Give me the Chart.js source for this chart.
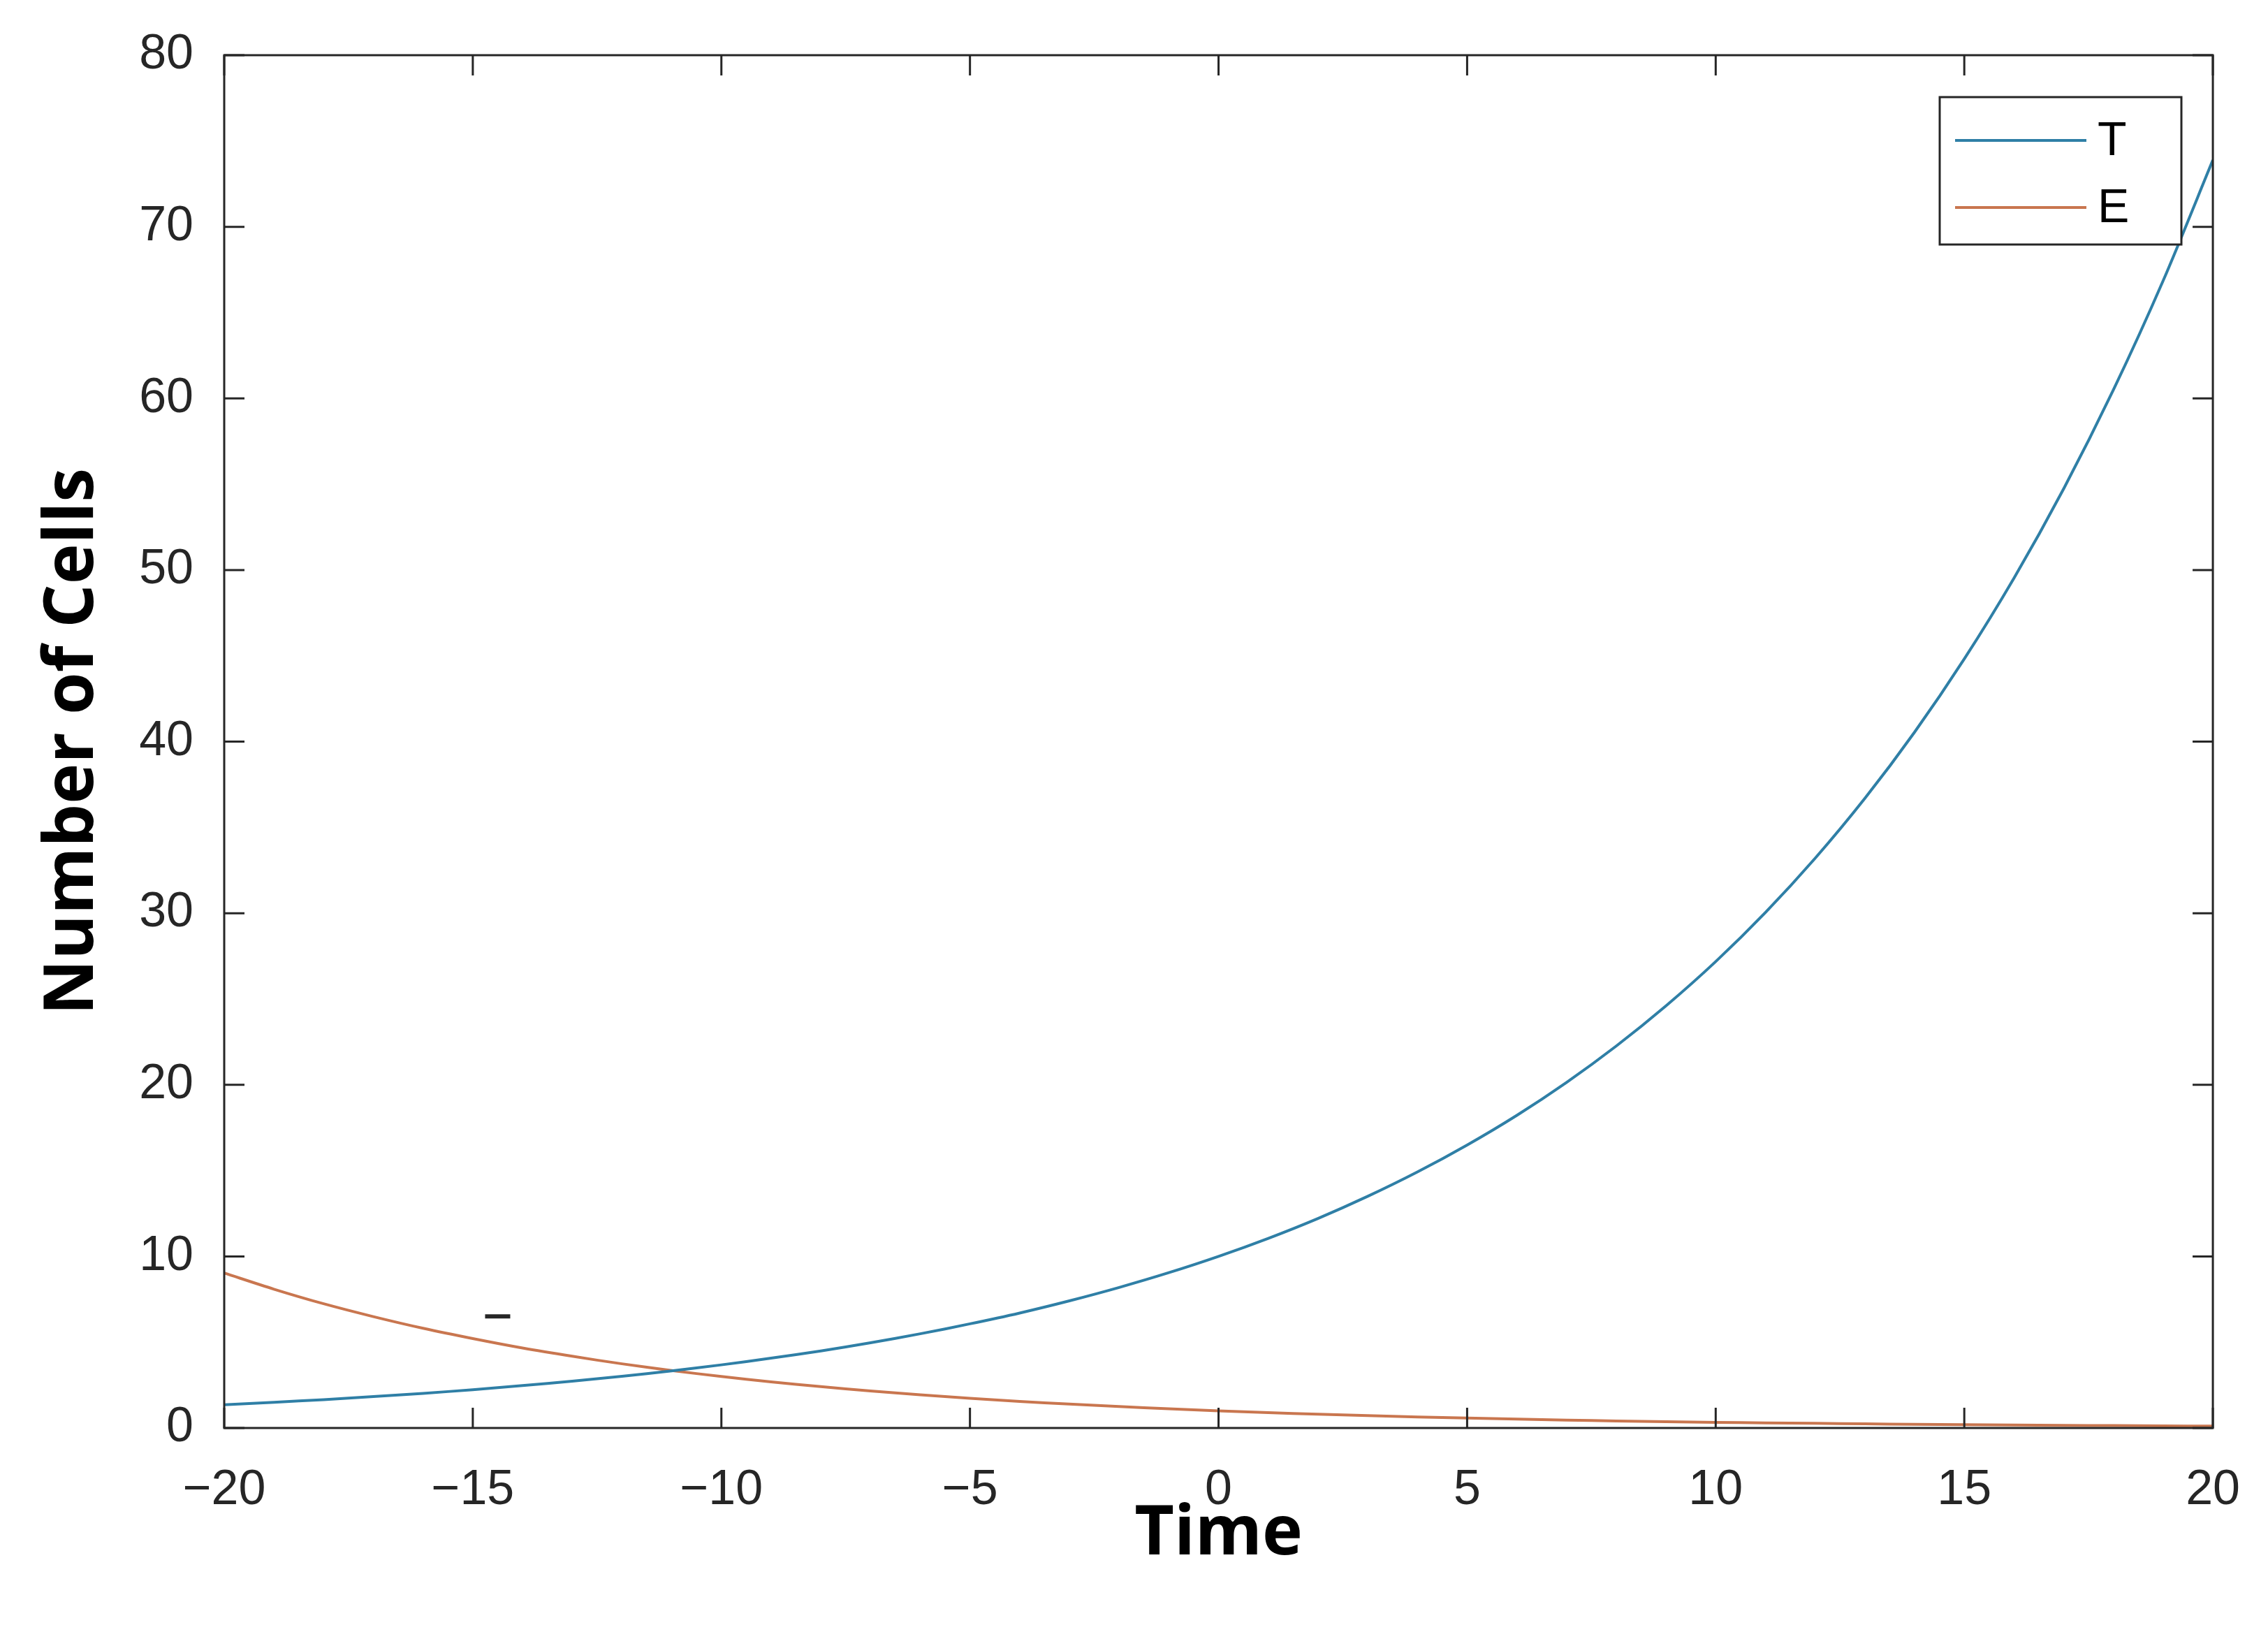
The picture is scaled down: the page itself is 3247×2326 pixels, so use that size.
<!DOCTYPE html>
<html>
<head>
<meta charset="utf-8">
<script src="https://cdn.jsdelivr.net/npm/chart.js@4.4.0/dist/chart.umd.min.js"></script>
<style>
  html, body { margin: 0; padding: 0; background: #fff; }
  #wrap { width: 3247px; height: 2326px; }
</style>
</head>
<body>
<div id="wrap"><canvas id="cellChart"></canvas></div>
<script>
// time points and the two cell populations
const times = [-20,-19,-18,-17,-16,-15,-14,-13,-12,-11,-10,-9,-8,-7,-6,-5,-4,-3,-2,-1,0,
               1,2,3,4,5,6,7,8,9,10,11,12,13,14,15,16,17,18,19,20];
const tCells = [1.35,1.50,1.65,1.83,2.02,2.23,2.47,2.73,3.01,3.33,3.68,4.07,4.49,4.97,5.49,6.07,6.70,7.41,8.19,9.05,10.0,
                11.05,12.21,13.50,14.92,16.49,18.22,20.14,22.26,24.60,27.18,30.04,33.20,36.69,40.55,44.82,49.53,54.74,60.50,66.86,73.89];
const eCells = [9.03,8.09,7.24,6.49,5.81,5.21,4.66,4.18,3.74,3.35,3.00,2.69,2.41,2.16,1.93,1.73,1.55,1.39,1.25,1.12,1.00,
                0.90,0.80,0.72,0.64,0.58,0.52,0.46,0.41,0.37,0.33,0.30,0.27,0.24,0.21,0.19,0.17,0.15,0.14,0.12,0.11];
const xTicks = [-20,-15,-10,-5,0,5,10,15,20];
const yTicks = [0,10,20,30,40,50,60,70,80];
const seriesNames = ['T', 'E'];
const seriesColors = ['#2f7fa6', '#c9764f'];
const strayMark = { x: -14.5, y: 6.5 };

const tickFont = { family: 'Liberation Sans', size: 70 };
const titleFont = { family: 'Open Sans', size: 98, weight: 'bold' };

// box around the plot, inward ticks, legend, and the little stray dash
const matlabFrame = {
    id: 'matlabFrame',
    afterDraw(chart) {
        const c = chart.ctx;
        const a = chart.chartArea;
        const xs = chart.scales.x, ys = chart.scales.y;
        const len = 29;
        c.save();
        c.strokeStyle = '#262626';
        c.lineWidth = 3;
        c.strokeRect(a.left, a.top, a.right - a.left, a.bottom - a.top);
        xTicks.forEach(v => {
            const px = xs.getPixelForValue(v);
            c.beginPath();
            c.moveTo(px, a.bottom); c.lineTo(px, a.bottom - len);
            c.moveTo(px, a.top); c.lineTo(px, a.top + len);
            c.stroke();
        });
        yTicks.forEach(v => {
            const py = ys.getPixelForValue(v);
            c.beginPath();
            c.moveTo(a.left, py); c.lineTo(a.left + len, py);
            c.moveTo(a.right, py); c.lineTo(a.right - len, py);
            c.stroke();
        });

        // stray dash
        const sx = xs.getPixelForValue(strayMark.x), sy = ys.getPixelForValue(strayMark.y);
        c.lineWidth = 6;
        c.beginPath();
        c.moveTo(sx - 18, sy); c.lineTo(sx + 18, sy);
        c.stroke();

        // legend box
        const bx = 2777, by = 139, bw = 346, bh = 211;
        c.fillStyle = '#fff';
        c.fillRect(bx, by, bw, bh);
        c.lineWidth = 3;
        c.strokeStyle = '#262626';
        c.strokeRect(bx, by, bw, bh);
        c.font = '68px "Liberation Sans"';
        c.textBaseline = 'middle';
        seriesNames.forEach((name, i) => {
            const ly = by + 62 + i * 96;
            c.strokeStyle = seriesColors[i];
            c.lineWidth = 4;
            c.beginPath();
            c.moveTo(bx + 22, ly); c.lineTo(bx + 210, ly);
            c.stroke();
            c.fillStyle = '#000';
            c.fillText(name, bx + 226, ly + 2);
        });
        c.restore();
    }
};

const ctx = document.getElementById('cellChart').getContext('2d');

const cellChart = new Chart(ctx, {
    type: 'line',
    data: {
        datasets: seriesNames.map((name, i) => ({
            label: name,
            data: times.map((t, k) => ({ x: t, y: (i === 0 ? tCells : eCells)[k] })),
            borderColor: seriesColors[i],
            borderWidth: 4,
            pointRadius: 0,
            tension: 0.3,
            fill: false
        }))
    },
    options: {
        responsive: true,
        maintainAspectRatio: false,
        animation: false,
        devicePixelRatio: 1,
        layout: { padding: { top: 79, right: 44, left: 42, bottom: 66 } },
        plugins: { legend: { display: false }, tooltip: { enabled: false } },
        scales: {
            x: {
                type: 'linear',
                min: -20, max: 20,
                afterBuildTicks: s => { s.ticks = xTicks.map(v => ({ value: v })); },
                afterFit: s => { s.height = 216; },
                grid: { display: false },
                border: { display: false },
                ticks: {
                    font: tickFont, color: '#262626', padding: 40,
                    maxRotation: 0,
                    callback: v => String(v).replace('-', '\u2212')
                },
                title: { display: true, text: 'Time', font: titleFont, color: '#000', padding: { top: 0 } }
            },
            y: {
                min: 0, max: 80,
                afterBuildTicks: s => { s.ticks = yTicks.map(v => ({ value: v })); },
                afterFit: s => { s.width = 279; },
                grid: { display: false },
                border: { display: false },
                ticks: { font: tickFont, color: '#262626', padding: 36 },
                title: { display: true, text: 'Number of Cells', font: titleFont, color: '#000', padding: { bottom: 0 } }
            }
        }
    },
    plugins: [matlabFrame]
});
</script>
</body>
</html>
